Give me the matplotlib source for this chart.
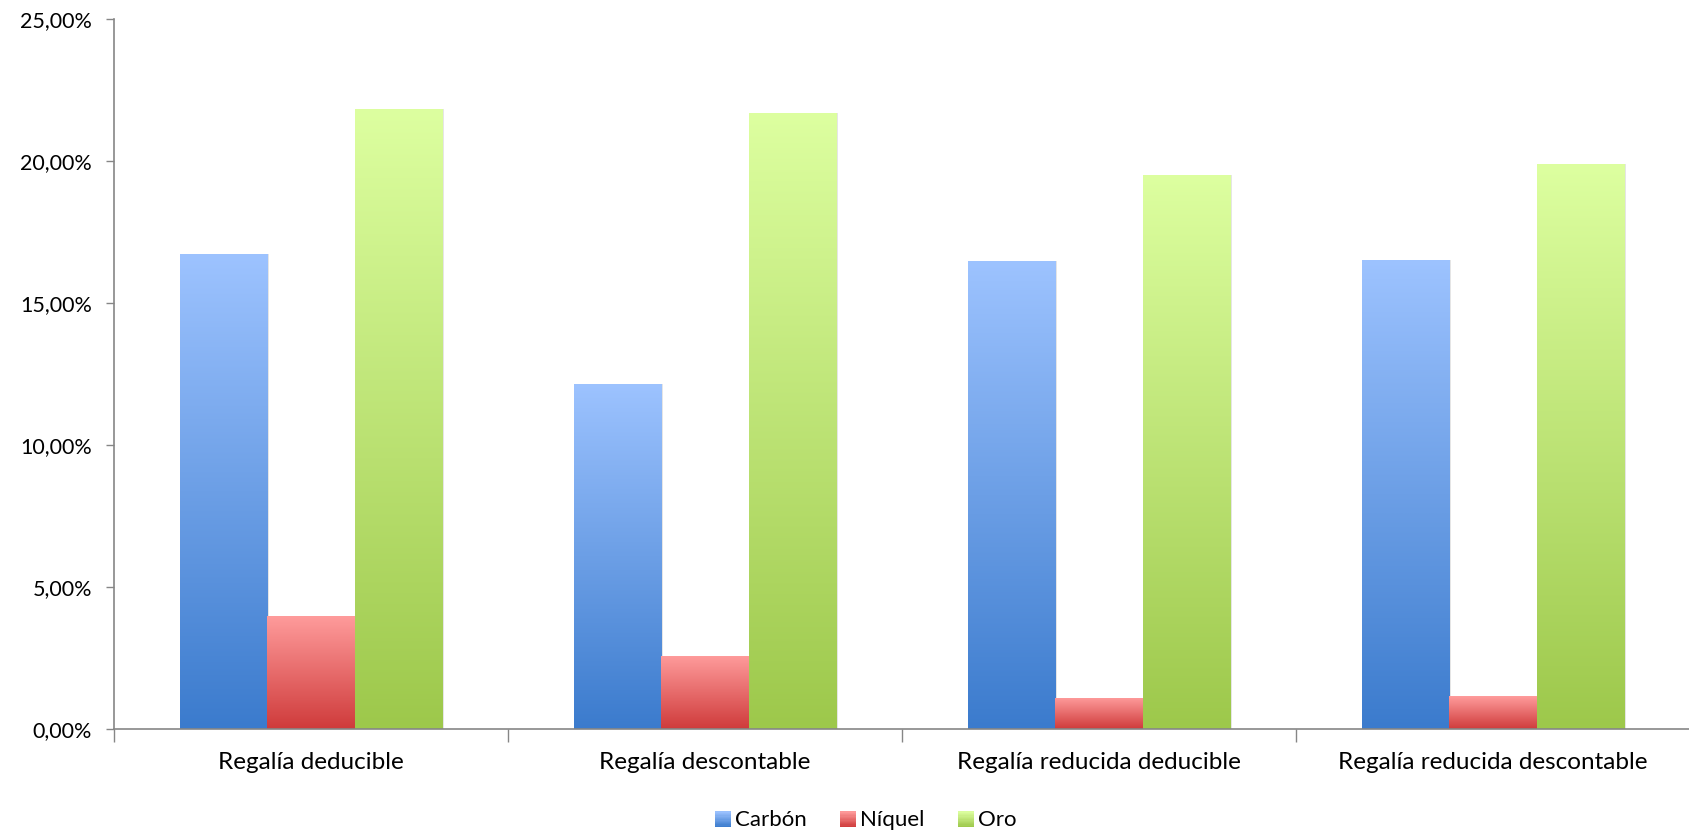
import numpy as np
import matplotlib
matplotlib.use("Agg")
import matplotlib.pyplot as plt
from matplotlib.colors import LinearSegmentedColormap
from matplotlib.legend_handler import HandlerBase
from matplotlib.patches import Rectangle
from matplotlib.ticker import FuncFormatter, MultipleLocator

plt.rcParams['font.family'] = ['Lato', 'DejaVu Sans']

categories = ["Regalía deducible", "Regalía descontable",
              "Regalía reducida deducible", "Regalía reducida descontable"]
series_names = ["Carbón", "Níquel", "Oro"]
carbon = [16.72, 12.16, 16.49, 16.53]
niquel = [3.99, 2.58, 1.10, 1.14]
oro = [21.85, 21.69, 19.53, 19.91]
values = [carbon, niquel, oro]

# top colour, bottom colour for each series
gradients = [("#9DC3FF", "#3B7BCD"),
             ("#FF9C9C", "#CF3B3B"),
             ("#DDFFA0", "#9DC84B")]

fig = plt.figure(figsize=(16.9, 8.3), dpi=100)
ax = fig.add_axes([0.0675, 0.122, 0.9325, 0.8546])

n_cat = len(categories)
n_ser = len(values)
width = 1.0 / (n_ser + 1.5)
x = np.arange(n_cat)

grad = np.linspace(1, 0, 256).reshape(-1, 1)

for i, (vals, (ctop, cbot)) in enumerate(zip(values, gradients)):
    cmap = LinearSegmentedColormap.from_list(f"g{i}", [cbot, ctop])
    offs = (i - (n_ser - 1) / 2) * width
    bars = ax.bar(x + offs, vals, width, color="none", edgecolor="none", zorder=2)
    for b in bars:
        bx, by = b.get_x(), b.get_y()
        bw, bh = b.get_width(), b.get_height()
        # soft shadow
        sh = Rectangle((bx + 0.004, by), bw, bh, facecolor="#000000", alpha=0.10,
                       edgecolor="none", zorder=1.5)
        ax.add_patch(sh)
        im = ax.imshow(grad, cmap=cmap, aspect="auto",
                       extent=[bx, bx + bw, by, by + bh],
                       interpolation="bicubic", zorder=2)
        im.set_clip_path(b)

ax.set_xlim(-0.5, n_cat - 0.5)
ax.set_ylim(0, 25)

ax.yaxis.set_major_locator(MultipleLocator(5))
ax.yaxis.set_major_formatter(FuncFormatter(lambda v, p: f"{v:.2f}".replace(".", ",") + "%"))

ax.set_xticks(x)
ax.set_xticklabels(categories)
ax.set_xticks(np.arange(-0.5, n_cat, 1.0), minor=True)
ax.tick_params(axis="x", which="major", length=0, pad=17, labelsize=17.5)
ax.tick_params(axis="x", which="minor", length=9, width=1, color="#868686", direction="out")
ax.tick_params(axis="y", length=6, width=1, color="#868686", labelsize=15.5, pad=10)

for s in ["top", "right"]:
    ax.spines[s].set_visible(False)
for s in ["left", "bottom"]:
    ax.spines[s].set_color("#868686")
    ax.spines[s].set_linewidth(1.2)
ax.spines["bottom"].set_zorder(3)


class GradientHandler(HandlerBase):
    def __init__(self, ctop, cbot):
        super().__init__()
        self.ctop = ctop
        self.cbot = cbot

    def create_artists(self, legend, orig_handle, xdescent, ydescent,
                       width, height, fontsize, trans):
        cmap = LinearSegmentedColormap.from_list("lg", [self.cbot, self.ctop])
        size = height * 1.0
        x0 = -xdescent + (width - size)
        y0 = -ydescent + (height - size) / 2 - 1
        n = 12
        artists = []
        for k in range(n):
            c = cmap(1 - (k + 0.5) / n)
            r = Rectangle((x0, y0 + size * (n - 1 - k) / n), size, size / n + 0.3,
                          facecolor=c, edgecolor="none", transform=trans)
            artists.append(r)
        return artists


handles = [Rectangle((0, 0), 1, 1) for _ in series_names]
handler_map = {h: GradientHandler(*g) for h, g in zip(handles, gradients)}
fig.legend(handles, series_names, handler_map=handler_map, loc="center",
           bbox_to_anchor=(0.511, 0.012), ncol=3, frameon=False, fontsize=16,
           handlelength=0.9, handletextpad=0.2, columnspacing=1.3)

fig.savefig("out.png", dpi=100, facecolor="white")
